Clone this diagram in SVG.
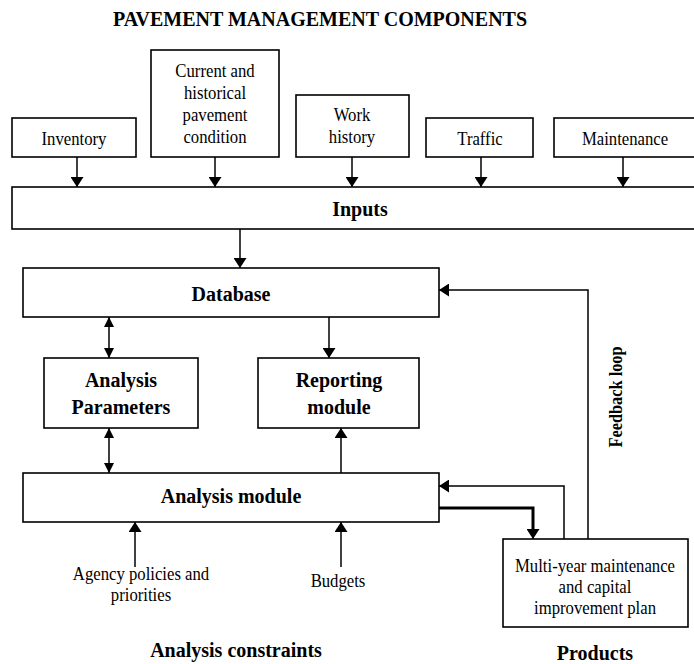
<svg xmlns="http://www.w3.org/2000/svg" width="694" height="664" viewBox="0 0 694 664">
<style>
.box{fill:#fff;stroke:#000;stroke-width:1.6}
.ln{fill:none;stroke:#000;stroke-width:1.5}
.thick{fill:none;stroke:#000;stroke-width:3}
text{font-family:"Liberation Serif","Times New Roman",serif;text-anchor:middle;fill:#000}
.t{font-size:19px}
.b{font-size:20px;font-weight:bold}
</style>
<defs>
<marker id="ah" markerUnits="userSpaceOnUse" markerWidth="10" markerHeight="13" viewBox="0 0 10 13" refX="10" refY="6.5" orient="auto-start-reverse">
<path d="M0,0 L10,6.5 L0,13 z" fill="#000"/>
</marker>
<marker id="ahs" markerUnits="userSpaceOnUse" markerWidth="10" markerHeight="10" viewBox="0 0 10 10" refX="10" refY="5" orient="auto-start-reverse">
<path d="M0,0 L10,5 L0,10 z" fill="#000"/>
</marker>
</defs>
<text class="b" x="320" y="26">PAVEMENT MANAGEMENT COMPONENTS</text>
<g id="inventory"><rect class="box" x="12" y="118" width="124" height="39"/><text class="t" transform="matrix(0.88 0 0 1 74 0)" x="0" y="145">Inventory</text></g>
<g id="condition"><rect class="box" x="151" y="50" width="128" height="107"/><text class="t" transform="matrix(0.88 0 0 1 215 0)" x="0" y="77">Current and</text><text class="t" transform="matrix(0.88 0 0 1 215 0)" x="0" y="99">historical</text><text class="t" transform="matrix(0.88 0 0 1 215 0)" x="0" y="121">pavement</text><text class="t" transform="matrix(0.88 0 0 1 215 0)" x="0" y="143">condition</text></g>
<g id="work"><rect class="box" x="296" y="95" width="113" height="62"/><text class="t" transform="matrix(0.88 0 0 1 352 0)" x="0" y="121">Work</text><text class="t" transform="matrix(0.88 0 0 1 352 0)" x="0" y="143">history</text></g>
<g id="traffic"><rect class="box" x="426" y="118" width="107" height="39"/><text class="t" transform="matrix(0.88 0 0 1 480 0)" x="0" y="145">Traffic</text></g>
<g id="maintenance"><rect class="box" x="554" y="118" width="160" height="39"/><text class="t" transform="matrix(0.88 0 0 1 625 0)" x="0" y="145">Maintenance</text></g>
<g id="inputs"><rect class="box" x="12" y="187" width="700" height="42"/><text class="b" x="360" y="216">Inputs</text></g>
<g id="database"><rect class="box" x="23" y="268" width="416" height="49"/><text class="b" x="231" y="301">Database</text></g>
<g id="params"><rect class="box" x="44" y="358" width="154" height="70"/><text class="b" x="121" y="387">Analysis</text><text class="b" x="121" y="414">Parameters</text></g>
<g id="reporting"><rect class="box" x="258" y="358" width="161" height="70"/><text class="b" x="339" y="387">Reporting</text><text class="b" x="339" y="414">module</text></g>
<g id="analysis"><rect class="box" x="23" y="473" width="416" height="49"/><text class="b" x="231" y="503">Analysis module</text></g>
<g id="plan"><rect class="box" x="503" y="539" width="185" height="88"/><text class="t" transform="matrix(0.88 0 0 1 595 0)" x="0" y="572">Multi-year maintenance</text><text class="t" transform="matrix(0.88 0 0 1 595 0)" x="0" y="593">and capital</text><text class="t" transform="matrix(0.88 0 0 1 595 0)" x="0" y="614">improvement plan</text></g>
<g id="agency"><text class="t" transform="matrix(0.88 0 0 1 141 0)" x="0" y="580">Agency policies and</text><text class="t" transform="matrix(0.88 0 0 1 141 0)" x="0" y="601">priorities</text></g>
<g id="budgets"><text class="t" transform="matrix(0.88 0 0 1 338 0)" x="0" y="587">Budgets</text></g>
<text class="b" x="236" y="657">Analysis constraints</text>
<text class="b" x="595" y="660">Products</text>
<text class="b" style="font-size:19px" transform="translate(622,397) rotate(-90) scale(0.86,1)" x="0" y="0">Feedback loop</text>
<g id="connectors">
<path class="ln" d="M77,157 V187" marker-end="url(#ah)"/>
<path class="ln" d="M215,157 V187" marker-end="url(#ah)"/>
<path class="ln" d="M352,157 V187" marker-end="url(#ah)"/>
<path class="ln" d="M481,157 V187" marker-end="url(#ah)"/>
<path class="ln" d="M623,157 V187" marker-end="url(#ah)"/>
<path class="ln" d="M240,229 V268" marker-end="url(#ah)"/>
<path class="ln" d="M109,317 V358" marker-start="url(#ahs)" marker-end="url(#ahs)"/>
<path class="ln" d="M329,317 V358" marker-end="url(#ah)"/>
<path class="ln" d="M109,428 V473" marker-start="url(#ahs)" marker-end="url(#ahs)"/>
<path class="ln" d="M341,473 V428" marker-end="url(#ah)"/>
<path class="ln" d="M135,567 V522" marker-end="url(#ah)"/>
<path class="ln" d="M341,567 V522" marker-end="url(#ah)"/>
<path class="ln" d="M588,539 V290 H439" marker-end="url(#ah)"/>
<path class="ln" d="M564,539 V486 H439" marker-end="url(#ah)"/>
<path class="thick" d="M439,508 H533 V536"/>
<path class="ln" d="M533,530 V539" marker-end="url(#ah)"/>
</g>
</svg>
